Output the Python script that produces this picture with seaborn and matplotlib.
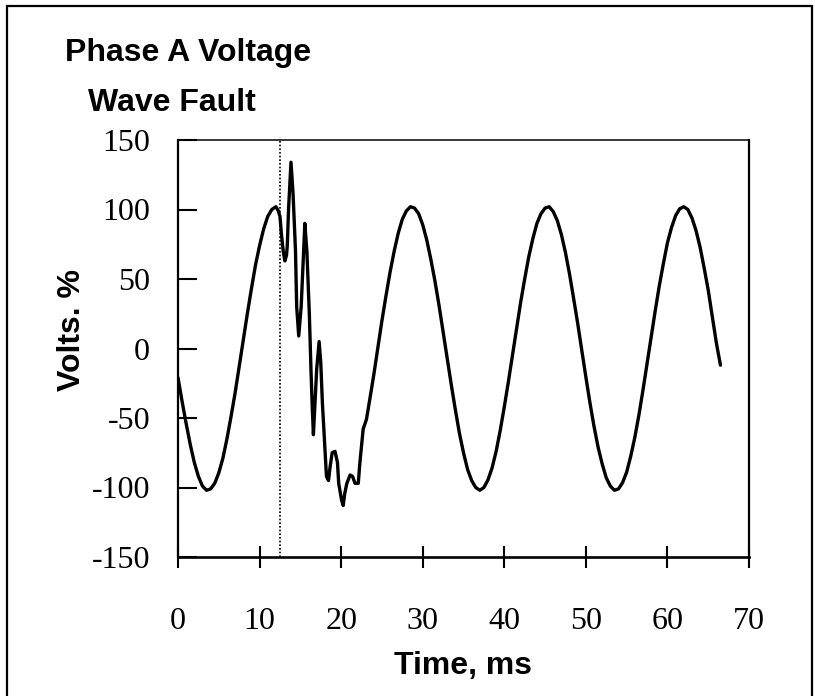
import matplotlib
matplotlib.use("Agg")
import matplotlib.pyplot as plt
from matplotlib.patches import Rectangle
import pandas as pd
import seaborn as sns

# Phase A voltage record, time in ms and voltage in % of nominal peak
time_ms = [
    0.0, 0.5, 1.0, 1.5, 2.0, 2.5, 3.0, 3.5, 4.0, 4.5, 5.0, 5.5, 6.0, 6.5, 7.0,
    7.5, 8.0, 8.5, 9.0, 9.5, 10.0, 10.5, 11.0, 11.5, 12.0,
    12.3, 12.5, 12.7, 12.9, 13.1, 13.3, 13.4, 13.55, 13.85, 14.1, 14.4, 14.55,
    14.8, 15.1, 15.35, 15.55, 15.8, 16.1, 16.3, 16.45, 16.6, 16.8, 17.0, 17.3,
    17.5, 17.7, 18.0, 18.2, 18.45, 18.65, 18.9, 19.25, 19.55, 19.7, 20.05,
    20.25, 20.45, 20.7, 21.1, 21.4, 21.7, 22.1, 22.3, 22.7, 23.1,
    23.5, 24.0, 24.5, 25.0, 25.5, 26.0, 26.5, 27.0, 27.5, 28.0, 28.5, 29.0,
    29.5, 30.0, 30.5, 31.0, 31.5, 32.0, 32.5, 33.0, 33.5, 34.0, 34.5, 35.0,
    35.5, 36.0, 36.5, 37.0, 37.5, 38.0, 38.5, 39.0, 39.5, 40.0, 40.5, 41.0,
    41.5, 42.0, 42.5, 43.0, 43.5, 44.0, 44.5, 45.0, 45.5, 46.0, 46.5, 47.0,
    47.5, 48.0, 48.5, 49.0, 49.5, 50.0, 50.5, 51.0, 51.5, 52.0, 52.5, 53.0,
    53.5, 54.0, 54.5, 55.0, 55.5, 56.0, 56.5, 57.0, 57.5, 58.0, 58.5, 59.0,
    59.5, 60.0, 60.5, 61.0, 61.5, 62.0, 62.5, 63.0, 63.5, 64.0, 64.5, 65.0,
    65.5, 66.0, 66.5,
]
volts_pct = [
    -21, -38, -54, -69, -82, -92, -99, -102, -101, -97, -89.5, -79, -65, -49,
    -32, -13, 6, 25, 43, 60, 74, 86, 95, 100, 102,
    99, 95, 81, 70, 63, 67, 74, 100, 134, 112, 71, 30,
    9, 30, 64, 90, 70, 25, -15, -41, -62, -39, -15, 5,
    -10, -39, -70, -92, -95, -85, -75, -74, -82, -97, -109,
    -113, -104, -97, -91, -92, -97, -97, -82, -58, -51,
    -37, -19, 0.5, 20, 38, 55, 70, 83, 93, 99, 102, 101,
    97, 89, 78, 64, 48.5, 31, 12, -7, -26, -44, -61, -75,
    -87, -95, -100, -102, -100, -94.5, -86, -74, -59, -42, -24, -5,
    14, 33, 50, 66, 79, 90, 97, 101, 102, 98.5, 92, 82,
    69, 53.5, 36, 18, -1.5, -20.5, -39, -56, -71, -83, -93, -99,
    -102, -101, -96.5, -89, -77.5, -64, -48, -30, -11, 8, 27, 45,
    61, 76, 87, 95.5, 100.5, 102, 100, 94, 85, 73, 58, 42,
    23, 4, -12,
]

fault_time_ms = 12.5

x_ticks = [0, 10, 20, 30, 40, 50, 60, 70]
x_tick_labels = ["0", "10", "20", "30", "40", "50", "60", "70"]
y_ticks = [-150, -100, -50, 0, 50, 100, 150]
y_tick_labels = ["-150", "-100", "-50", "0", "50", "100", "150"]

title_lines = ["Phase A Voltage", "Wave Fault"]
x_label = "Time, ms"
y_label = "Volts. %"

df = pd.DataFrame({"time": time_ms, "volts": volts_pct})

sns.set_style("white")
plt.rcParams["font.family"] = ["Liberation Sans", "DejaVu Sans"]
plt.rcParams["axes.unicode_minus"] = False
plt.rcParams["text.color"] = "black"

W, H = 815, 696
fig = plt.figure(figsize=(W / 100, H / 100), dpi=100)
fig.patch.set_facecolor("white")

ax = fig.add_axes([178 / W, 1 - 557 / H, (749 - 178) / W, (557 - 140) / H])

sns.lineplot(data=df, x="time", y="volts", ax=ax, color="black",
             linewidth=2.4, estimator=None, sort=False)

ax.axvline(fault_time_ms, color="black", linestyle=(0, (1, 1.2)),
           linewidth=1.2, zorder=1)

ax.set_xlim(0, 70)
ax.set_ylim(-150, 150)
ax.set_xticks(x_ticks)
ax.set_xticklabels(x_tick_labels)
ax.set_yticks(y_ticks)
ax.set_yticklabels(y_tick_labels)

tick_family = ["Liberation Serif", "DejaVu Serif"]
for lab in ax.get_xticklabels() + ax.get_yticklabels():
    lab.set_fontfamily(tick_family)
    lab.set_fontsize(23)
    lab.set_color("black")

ax.tick_params(axis="x", which="major", bottom=True, top=False,
               direction="inout", length=16, width=1.5,
               pad=28, colors="black")
ax.tick_params(axis="y", which="major", left=True, right=False,
               direction="in", length=14, width=1.5,
               pad=20, colors="black")

for side, lw in {"left": 1.6, "bottom": 1.9, "right": 1.6, "top": 1.1}.items():
    ax.spines[side].set_visible(True)
    ax.spines[side].set_color("black")
    ax.spines[side].set_linewidth(lw)

ax.set_xlabel("")
ax.set_ylabel("")

bold = {"family": ["Liberation Sans", "DejaVu Sans"], "weight": "bold",
        "size": 23, "color": "black"}
fig.text(65 / W, 1 - 61 / H, title_lines[0], ha="left", va="baseline", **bold)
fig.text(88 / W, 1 - 111 / H, title_lines[1], ha="left", va="baseline", **bold)
fig.text(463 / W, 1 - 666 / H, x_label, ha="center", va="center", **bold)
fig.text(72 / W, 1 - 330 / H, y_label, ha="center", va="center",
         rotation=90, **bold)

# page frame around the chart (bottom edge falls outside the image)
frame = Rectangle((7 / W, -0.05), (812 - 7) / W, 0.05 + (1 - 6 / H),
                  transform=fig.transFigure, fill=False,
                  edgecolor="black", linewidth=1.6)
fig.patches.append(frame)

fig.savefig("out.png", dpi=100, facecolor="white")
